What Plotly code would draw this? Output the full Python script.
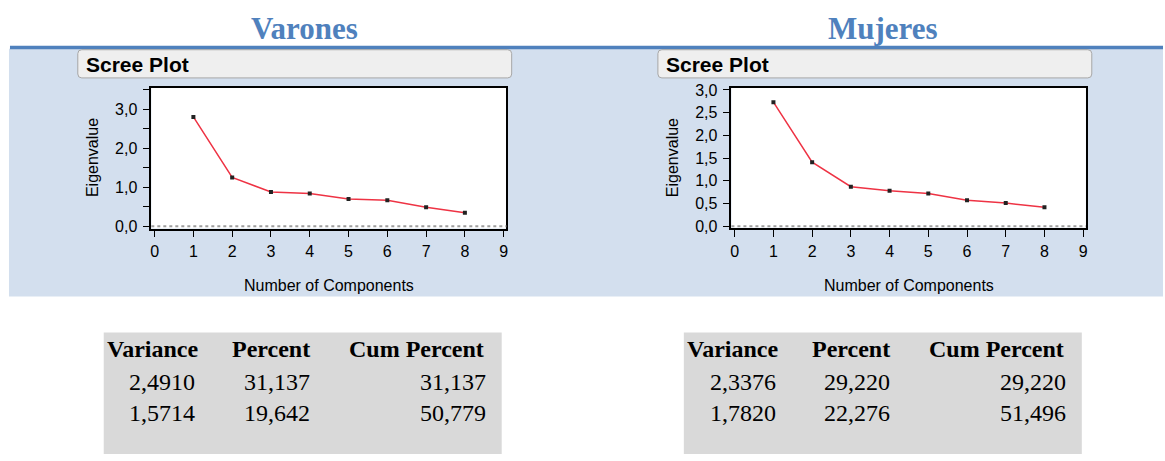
import plotly.graph_objects as go

W, H = 1165, 461

# Scree plot data (eigenvalue per component)
components = [1, 2, 3, 4, 5, 6, 7, 8]
eigen_varones = [2.80, 1.25, 0.88, 0.84, 0.70, 0.67, 0.49, 0.35]
eigen_mujeres = [2.73, 1.41, 0.87, 0.78, 0.72, 0.57, 0.51, 0.42]

# Variance-explained tables
table_headers = ["Variance", "Percent", "Cum Percent"]
variance_varones = [2.4910, 1.5714]
percent_varones = [31.137, 19.642]
cum_varones = [31.137, 50.779]
variance_mujeres = [2.3376, 1.7820]
percent_mujeres = [29.220, 22.276]
cum_mujeres = [29.220, 51.496]

group_titles = ["Varones", "Mujeres"]

SANS = "Arial, Liberation Sans, sans-serif"
SERIF = "Times New Roman, Liberation Serif, serif"
TITLE_BLUE = "#4F81BD"
PANEL_BG = "#D3DFEE"


def px(x):
    return x / W


def py(y):
    return 1 - y / H


def rect(x0, y0, x1, y1, fill, line_color=None, line_width=0):
    return dict(type="rect", xref="paper", yref="paper",
                x0=px(x0), x1=px(x1), y0=py(y1), y1=py(y0),
                fillcolor=fill, layer="below",
                line=dict(color=line_color or fill, width=line_width))


def rounded_rect(x0, y0, x1, y1, r, fill, line_color):
    pts = [
        f"M {px(x0 + r)} {py(y0)}",
        f"L {px(x1 - r)} {py(y0)}",
        f"Q {px(x1)} {py(y0)} {px(x1)} {py(y0 + r)}",
        f"L {px(x1)} {py(y1 - r)}",
        f"Q {px(x1)} {py(y1)} {px(x1 - r)} {py(y1)}",
        f"L {px(x0 + r)} {py(y1)}",
        f"Q {px(x0)} {py(y1)} {px(x0)} {py(y1 - r)}",
        f"L {px(x0)} {py(y0 + r)}",
        f"Q {px(x0)} {py(y0)} {px(x0 + r)} {py(y0)}",
        "Z",
    ]
    return dict(type="path", xref="paper", yref="paper", path=" ".join(pts),
                fillcolor=fill, layer="below", line=dict(color=line_color, width=1))


def fmt(v, nd):
    return f"{v:.{nd}f}".replace(".", ",")


fig = go.Figure()

# panel geometry (pixels): plot frame x0, x1, y0, y1 and horizontal offset
panels = [
    dict(name=group_titles[0], eig=eigen_varones, dx=0,
         frame=(150.7, 506.7, 84, 229), yrange=[-0.057, 3.55], ydtick=1.0, minor=True,
         var=variance_varones, pct=percent_varones, cum=cum_varones, title_x=304),
    dict(name=group_titles[1], eig=eigen_mujeres, dx=581.6,
         frame=(732.3, 1087.7, 84, 228.3), yrange=[-0.035, 3.05], ydtick=0.5, minor=False,
         var=variance_mujeres, pct=percent_mujeres, cum=cum_mujeres, title_x=884),
]

shapes = []
annotations = []

# light-blue band and blue rule across the top
shapes.append(rect(8, 44, W, 299, PANEL_BG))
shapes.append(rect(9, 41, W, 44.5, TITLE_BLUE))

for i, p in enumerate(panels):
    n = "" if i == 0 else str(i + 1)
    xa, ya = "xaxis" + n, "yaxis" + n
    x0, x1, y0, y1 = p["frame"]
    dx = p["dx"]

    # white plotting area and header box
    shapes.append(rect(x0, y0, x1, y1, "white"))
    shapes.append(rounded_rect(77 + dx, 45, 512 + dx, 74, 4, "#EFEFEF", "#A6A6A6"))
    # grey table box
    shapes.append(rect(103 + dx, 336, 502 + dx, 461, "#D9D9D9"))

    # dotted reference line at zero
    shapes.append(dict(type="line", xref=f"x{n} domain", yref=f"y{n}",
                       x0=0, x1=1, y0=0, y1=0, layer="above",
                       line=dict(color="#9E9E9E", width=2, dash="dot")))

    fig.add_trace(go.Scatter(
        x=components, y=p["eig"], mode="lines+markers",
        xaxis="x" + n, yaxis="y" + n, showlegend=False,
        line=dict(color="#EE3344", width=1.5),
        marker=dict(symbol="square", size=4, color="#222222"),
        hoverinfo="skip",
    ))

    axis_common = dict(showline=True, mirror=True, linecolor="black", linewidth=1.5,
                       ticks="outside", ticklen=7, tickcolor="black", tickwidth=1,
                       showgrid=False, zeroline=False,
                       tickfont=dict(family=SANS, size=16, color="black"))
    fig.update_layout(**{
        xa: dict(domain=[px(x0), px(x1)], range=[-0.085, 9.07], dtick=1, tick0=0,
                 anchor="y" + n, ticklabelstandoff=1, **axis_common),
        ya: dict(domain=[py(y1), py(y0)], range=p["yrange"], dtick=p["ydtick"], tick0=0,
                 tickformat=".1f", anchor="x" + n, ticklabelstandoff=2,
                 minor=dict(dtick=0.5, ticks="outside", ticklen=7, tickcolor="black")
                 if p["minor"] else None,
                 **axis_common),
    })

    # headings
    annotations.append(dict(text=f"<b>{p['name']}</b>", x=px(p["title_x"]), y=py(23),
                            xref="paper", yref="paper", showarrow=False,
                            xanchor="center", yanchor="middle",
                            font=dict(family=SERIF, size=31, color=TITLE_BLUE)))
    annotations.append(dict(text="<b>Scree Plot</b>", x=px(83 + dx), y=py(60),
                            xref="paper", yref="paper", showarrow=False,
                            xanchor="left", yanchor="middle",
                            font=dict(family=SANS, size=21, color="black")))
    annotations.append(dict(text="Eigenvalue", x=px(x0 - 59), y=py(156),
                            xref="paper", yref="paper", showarrow=False, textangle=-90,
                            xanchor="center", yanchor="middle",
                            font=dict(family=SANS, size=16, color="black")))
    annotations.append(dict(text="Number of Components", x=px((x0 + x1) / 2), y=py(288),
                            xref="paper", yref="paper", showarrow=False,
                            xanchor="center", yanchor="middle",
                            font=dict(family=SANS, size=16, color="black")))

    # table header
    head_pos = [(104, "left"), (312, "right"), (486, "right")]
    for h, (hx, anc) in zip(table_headers, head_pos):
        annotations.append(dict(text=f"<b>{h}</b>", x=px(hx + dx), y=py(353),
                                xref="paper", yref="paper", showarrow=False,
                                xanchor=anc, yanchor="middle",
                                font=dict(family=SERIF, size=24, color="black")))
    # table rows
    row_y = [387, 419]
    for r in range(2):
        cells = [(fmt(p["var"][r], 4), 197), (fmt(p["pct"][r], 3), 312),
                 (fmt(p["cum"][r], 3), 488)]
        for txt, cx in cells:
            annotations.append(dict(text=txt, x=px(cx + dx), y=py(row_y[r]),
                                    xref="paper", yref="paper", showarrow=False,
                                    xanchor="right", yanchor="middle",
                                    font=dict(family=SERIF, size=24, color="black")))

fig.update_layout(
    width=W, height=H, autosize=False,
    margin=dict(l=0, r=0, t=0, b=0),
    paper_bgcolor="white", plot_bgcolor="rgba(0,0,0,0)",
    separators=",.",
    shapes=shapes, annotations=annotations,
    showlegend=False,
)

fig.write_html("out.html")
